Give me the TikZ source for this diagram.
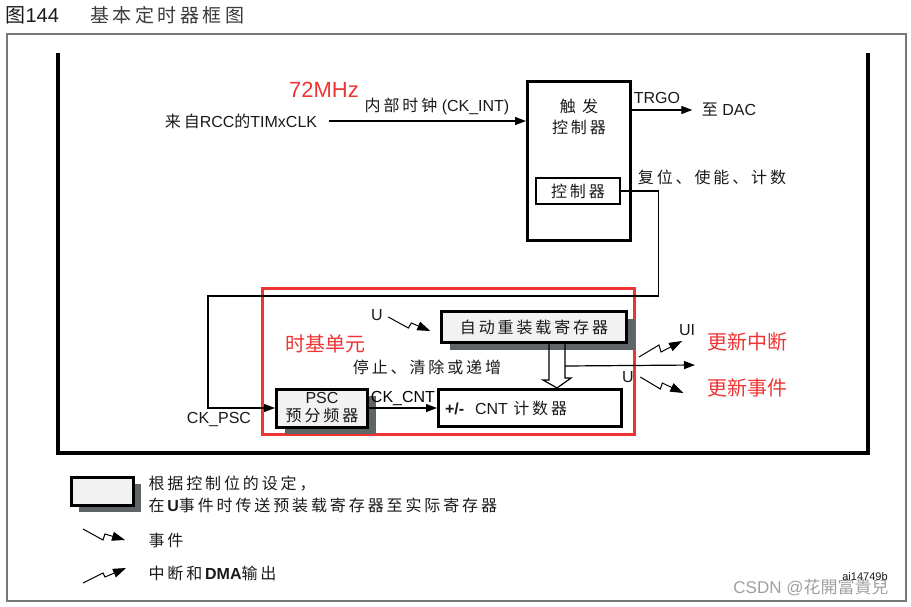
\documentclass[tikz,border=0pt]{standalone}
\usepackage{fontspec}
\setmainfont{Liberation Sans}
\newfontfamily\cjk[LetterSpace=18]{Noto Sans CJK SC}
\newfontfamily\cjkred{Noto Sans CJK SC}
\usetikzlibrary{arrows.meta, positioning, calc, shadows}
\definecolor{ink}{RGB}{25, 25, 25}
\definecolor{framegray}{RGB}{120, 120, 120}
\definecolor{shade}{RGB}{95, 100, 102}
\definecolor{boxfill}{RGB}{242, 242, 242}
\definecolor{note}{RGB}{238, 52, 52}
\definecolor{mark}{RGB}{160, 160, 160}
\newcommand{\zh}[1]{{\cjk #1}}

\begin{document}
\begin{tikzpicture}[x=1pt, y=-1pt,
    font=\fontsize{16}{18}\selectfont, text=ink,
    blk/.style={draw=black, line width=3pt, inner sep=0pt, align=center},
    reg/.style={blk, fill=boxfill, drop shadow={shadow xshift=8pt, shadow yshift=-7pt, fill=shade, opacity=1}},
    notetxt/.style={text=note, font=\fontsize{20}{22}\selectfont\cjkred},
    wire/.style={line width=1.2pt, black},
    arr/.style={wire, -{Triangle[length=11pt, width=8pt]}},
    evt/.style={wire, line width=1pt, -{Triangle[length=13pt, width=9pt]}}
  ]
  \useasboundingbox (0,0) rectangle (911,606);

  % title and frames
  \node[anchor=west, font=\fontsize{20}{22}\selectfont] (fig) at (2,15) {{\cjkred 图}144};
  \node[anchor=west, font=\fontsize{19}{22}\selectfont\cjk, text=ink!85] (title) at (87,15) {基本定时器框图};
  \draw[framegray, line width=1.3pt] (7,34) rectangle (906,601);
  \draw[black, line width=3.5pt] (58,53) -- (58,453) -- (868,453) -- (868,53);

  % clock input and trigger controller
  \node[blk, minimum width=103pt, minimum height=159pt] (trig) at (579,161) {};
  \node[align=center, font=\fontsize{16}{21}\selectfont] (trigname) at (579,117) {\zh{触 发}\\\zh{控制器}};
  \node[blk, line width=2.6pt, minimum width=84pt, minimum height=26pt] (ctrl) at (578,191) {\zh{控制器}};
  \node (rcc) at (241,121) {\zh{来自}RCC\zh{的}TIMxCLK};
  \node (ckint) at (437,106) {\zh{内部时钟} (CK\_INT)};
  \node[notetxt, font=\fontsize{22}{24}\selectfont] (mhz) at (324,90) {72MHz};
  \draw[arr] ([xshift=8pt]rcc.east) -- (rcc -| trig.west);

  \node (dac) at (729,110) {\zh{至} DAC};
  \node (trgo) at (657,98) {TRGO};
  \draw[arr] (trig.east |- dac) -- ([xshift=-6pt]dac.west);
  \node (cmd) at (712,177) {\zh{复位、使能、计数}};

  % time base unit
  \node[draw=note, line width=3pt, minimum width=372pt, minimum height=146pt] (unit) at (448,361) {};
  \node[notetxt] (unitname) at (325,344) {时基单元};

  \node[reg, minimum width=185pt, minimum height=31pt] (arr) at (534,327) {\zh{自动重装载寄存器}};
  \node[reg, minimum width=91pt, minimum height=38pt, font=\fontsize{16}{18}\selectfont] (psc) at (322,408) {PSC\\\zh{预分频器}};
  \node[blk, minimum width=183pt, minimum height=37pt, text width=170pt, align=left] (cnt) at (530,408) {\textbf{+/-}\hspace{11pt}CNT \zh{计数器}};
  \node (ctl) at (427,367) {\zh{停止、清除或递增}};

  \draw[arr] (psc.east) -- node[above=-2pt] (ckcnt) {CK\_CNT} (cnt.west);
  \coordinate (turn) at (208,296);
  \draw[arr] (ctrl.east) -- ++(37,0) |- (turn) |- (psc.west);
  \node (ckpsc) at (219,419) {CK\_PSC};

  % reload event
  \node (uin) at (377,315) {U};
  \draw[evt] ([xshift=2pt, yshift=-2pt]uin.east) -- ++(20,11) -- ++(3,-5) -- ++(19,8);

  % preload transfer
  \coordinate (hol) at ($(arr.south)+(23,0)$);
  \draw[wire] ($(hol)+(-8,0)$) -- ++(0,36) -- ++(-6,0) -- (hol |- cnt.north) -- ++(14,-10) -- ++(-6,0) -- ($(hol)+(8,0)$);
  \coordinate (upd) at (695,365);
  \draw[arr] ($(hol)+(8,22)$) -- (upd);

  % outputs
  \node (ui) at (687,330) {UI};
  \node (uout) at (628,377) {U};
  \draw[evt] (639,357) -- ++(20,-12) -- ++(2,7) -- ++(21,-11);
  \draw[evt] ([xshift=3pt]uout.east) -- ++(20,12) -- ++(2,-6) -- ++(21,10);
  \node[notetxt] (irqname) at (747,342) {更新中断};
  \node[notetxt] (evtname) at (747,388) {更新事件};

  % legend
  \node[reg, minimum width=62pt, minimum height=28pt] (key) at (102,491) {};
  \node[anchor=west, align=left, font=\fontsize{16}{22}\selectfont] (keytxt) at (145,494) {\zh{根据控制位的设定，}\\\zh{在}\textbf{U}\zh{事件时传送预装载寄存器至实际寄存器}};
  \draw[evt] (83,529) -- ++(20,11) -- ++(2,-6) -- ++(20,6);
  \node[anchor=west] (evtkey) at (145,540) {\zh{事件}};
  \draw[evt] (83,583) -- ++(20,-10) -- ++(2,4) -- ++(21,-9);
  \node[anchor=west] (irqkey) at (145,573) {\zh{中断和}\textbf{DMA}\zh{输出}};

  \node[font=\fontsize{17}{19}\selectfont, text=mark] (csdn) at (811,587) {CSDN @{\cjkred 花開富貴兒}};
  \node[font=\fontsize{11}{12}\selectfont] (code) at (865,577) {ai14749b};
\end{tikzpicture}
\end{document}
